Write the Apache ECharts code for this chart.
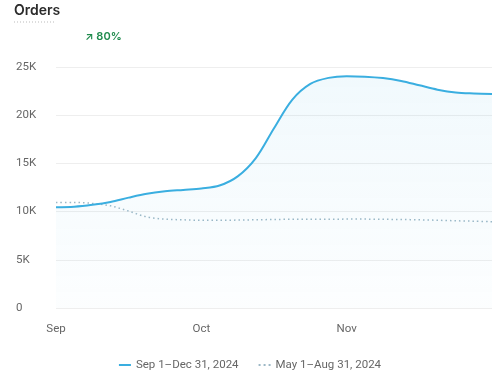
<!DOCTYPE html>
<html>
<head>
<meta charset="utf-8">
<script src="https://cdn.jsdelivr.net/npm/echarts@6/dist/echarts.min.js"></script>
<style>
html,body{margin:0;padding:0;background:#fff;}
#c{width:500px;height:381px;}
</style>
</head>
<body>
<div id="c"></div>
<script>
const categories = ['Sep 1','Sep 5','Sep 8','Sep 12','Sep 16','Sep 20','Sep 23','Sep 27','Oct 1','Oct 5','Oct 8','Oct 12','Oct 16','Oct 20','Oct 24','Oct 28','Nov 1','Nov 5','Nov 8','Nov 12','Nov 16','Nov 20','Nov 23','Nov 27','Dec 1'];
const monthLabels = {0:'Sep',8:'Oct',16:'Nov'};
const currentValues = [10450,10500,10700,11000,11450,11850,12100,12250,12400,12700,13650,15550,18650,21600,23250,23870,24040,24000,23850,23550,23100,22650,22350,22250,22200];
const previousValues = [10950,10950,10850,10600,10050,9450,9220,9150,9100,9100,9120,9150,9180,9200,9200,9210,9220,9220,9200,9180,9150,9100,9050,9000,8950];
const yTicks = [0,5000,10000,15000,20000,25000];
const seriesNames = ['Sep 1–Dec 31, 2024','May 1–Aug 31, 2024'];
const changeText = '↗ 80%';
const titleText = 'Orders';

const chart = echarts.init(document.getElementById('c'));
const FONT = 'Inter, "Noto Sans", sans-serif';
const FONT2 = 'Roboto, "Noto Sans", sans-serif';
chart.setOption({
  animation:false,
  textStyle:{fontFamily:FONT2},
  graphic:[
    {type:'text', left:14, top:4, style:{text:titleText, font:'600 14px '+FONT, fill:'#2b2b2b'}},
    {type:'line', shape:{x1:14,y1:22,x2:56,y2:22}, style:{stroke:'#bbb', lineWidth:1, lineDash:[1,2]}},
    {type:'text', left:85, top:31, style:{text:changeText, font:'600 11px '+FONT, fill:'#1e8a4c'}}
  ],
  grid:{left:56, right:8, top:67, bottom:73},
  legend:{
    bottom:5, left:'center', itemGap:20, itemWidth:12, itemHeight:2,
    textStyle:{color:'#666', fontSize:11.5, fontFamily:FONT2},
    data:[
      {name:seriesNames[0], icon:'rect'},
      {name:seriesNames[1], icon:'path://M0,0h2v2h-2z M5,0h2v2h-2z M10,0h2v2h-2z'}
    ]
  },
  xAxis:{
    type:'category', boundaryGap:false, data:categories,
    axisLine:{show:false}, axisTick:{show:false},
    axisLabel:{
      color:'#666', fontSize:11.5, margin:15,
      interval:function(i){return monthLabels[i]!==undefined;},
      formatter:function(v,i){return monthLabels[i]||'';}
    }
  },
  yAxis:{
    type:'value', min:0, max:25000, interval:5000,
    axisLine:{show:false}, axisTick:{show:false},
    splitLine:{lineStyle:{color:'#eeeeee'}},
    axisLabel:{
      color:'#666', fontSize:11.5, align:'left', margin:40,
      formatter:function(v){return yTicks.indexOf(v)>=0 ? (v===0?'0':(v/1000)+'K') : '';}
    }
  },
  series:[
    {
      name:seriesNames[0], type:'line', data:currentValues, smooth:0.33, symbol:'none',
      lineStyle:{color:'#3aaee0', width:2},
      itemStyle:{color:'#3aaee0'},
      areaStyle:{color:new echarts.graphic.LinearGradient(0,0,0,1,[
        {offset:0,color:'rgba(58,174,224,0.10)'},
        {offset:1,color:'rgba(58,174,224,0.02)'}
      ])},
      z:3
    },
    {
      name:seriesNames[1], type:'line', data:previousValues, smooth:0.33, symbol:'none',
      lineStyle:{color:'#9db8c6', width:1.5, type:[1.5,3]},
      itemStyle:{color:'#9db8c6'},
      z:2
    }
  ]
});
</script>
</body>
</html>
